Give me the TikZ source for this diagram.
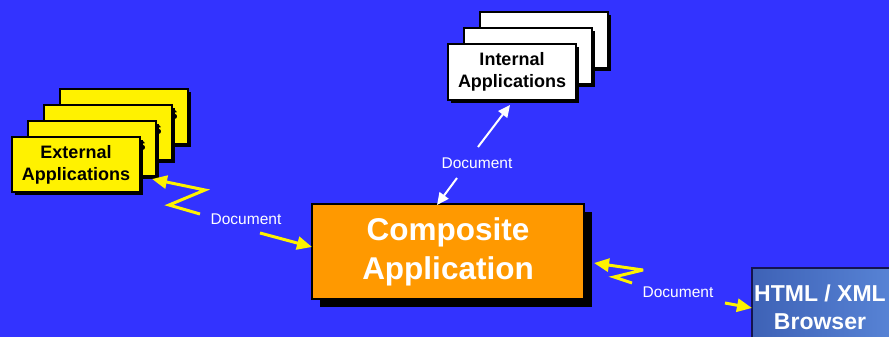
\documentclass[tikz,border=0pt]{standalone}
\usepackage{fontspec}
\setmainfont{Liberation Sans}
\usetikzlibrary{arrows.meta,shadows}
\definecolor{bg}{RGB}{51,51,255}
\definecolor{compfill}{RGB}{255,153,0}
\definecolor{browserA}{RGB}{62,98,182}
\definecolor{browserB}{RGB}{88,132,214}
\definecolor{navy}{RGB}{20,20,80}
\tikzset{
  appbox/.style={draw=black, line width=1.5pt, align=center, inner sep=0pt,
    font=\bfseries\fontsize{18}{22}\selectfont,
    minimum width=128pt, minimum height=55pt,
    general shadow={fill=black, shadow xshift=3pt, shadow yshift=-3pt}},
  extbox/.style={appbox, fill=yellow},
  intbox/.style={appbox, fill=white, minimum height=56pt},
  compbox/.style={draw=black, line width=1.2pt, fill=compfill, text=white,
    align=center, inner sep=0pt, minimum width=272pt, minimum height=95pt,
    font=\bfseries\fontsize{31.5}{39}\selectfont,
    general shadow={fill=black, shadow xshift=8pt, shadow yshift=-8pt}},
  browserbox/.style={draw=navy, line width=1.5pt, left color=browserA, right color=browserB,
    text=white, align=center, inner sep=0pt, minimum width=144pt, minimum height=78pt,
    font=\bfseries\fontsize{23}{28}\selectfont},
  smark/.style={text=black, inner sep=0pt, font=\bfseries\fontsize{17}{17}\selectfont},
  doclabel/.style={text=white, inner sep=1pt, font=\fontsize{15.5}{18}\selectfont},
  yarrow/.style={draw=yellow, line width=3pt, line join=miter, miter limit=4,
    -{Triangle[length=15pt,width=13pt]}},
  warrow/.style={draw=white, line width=2pt, -{Triangle[length=12pt,width=11pt]}}
}
\begin{document}
\begin{tikzpicture}[x=1pt,y=-1pt]
\fill[bg] (0,0) rectangle (889,337);
\useasboundingbox (0,0) rectangle (889,337);

% External applications stack
\node[extbox] (ext4) at (124,116.5) {};
\node[smark] (s4) at (173,115) {s};
\node[extbox] (ext3) at (108,132.5) {};
\node[smark] (s3) at (157,130) {s};
\node[extbox] (ext2) at (92,148.5) {};
\node[smark] (s2) at (141,146) {s};
\node[extbox] (ext1) at (76,164.5) {External\\Applications};

% Internal applications stack
\node[intbox] (int3) at (544,40) {};
\node[intbox] (int2) at (528,56) {};
\node[intbox] (int1) at (512,72) {Internal\\Applications};

% Composite application
\node[compbox] (comp) at (448,251.5) {Composite\\Application};

% Browser
\node[browserbox] (browser) at (824,307) {\hspace*{-8pt}HTML / XML\\\hspace*{-8pt}Browser};

% Labels
\node[doclabel] (docL) at (246,219) {Document};
\node[doclabel] (docT) at (477,163) {Document};
\node[doclabel] (docR) at (678,292) {Document};

% Left connectors
\coordinate (lz0) at (200,214);
\coordinate (lz1) at (169,205);
\coordinate (lz2) at (205,190);
\coordinate (lzT) at (152,179);
\draw[yarrow] (lz0) -- (lz1) -- (lz2) -- (lzT);
\coordinate (la0) at (260,233);
\coordinate (laT) at (312,247);
\draw[yarrow] (la0) -- (laT);

% Top connectors
\coordinate (tu0) at (478,147);
\coordinate (tuT) at (510,105);
\draw[warrow] (tu0) -- (tuT);
\coordinate (td0) at (457,178);
\coordinate (tdT) at (437,205);
\draw[warrow] (td0) -- (tdT);

% Right connectors
\coordinate (rz0) at (632,283);
\coordinate (rz1) at (614,277);
\coordinate (rz2) at (643,270);
\coordinate (rzT) at (594,263);
\draw[yarrow] (rz0) -- (rz1) -- (rz2) -- (rzT);
\coordinate (ra0) at (725,303);
\coordinate (raT) at (752,308);
\draw[yarrow] (ra0) -- (raT);
\end{tikzpicture}
\end{document}
